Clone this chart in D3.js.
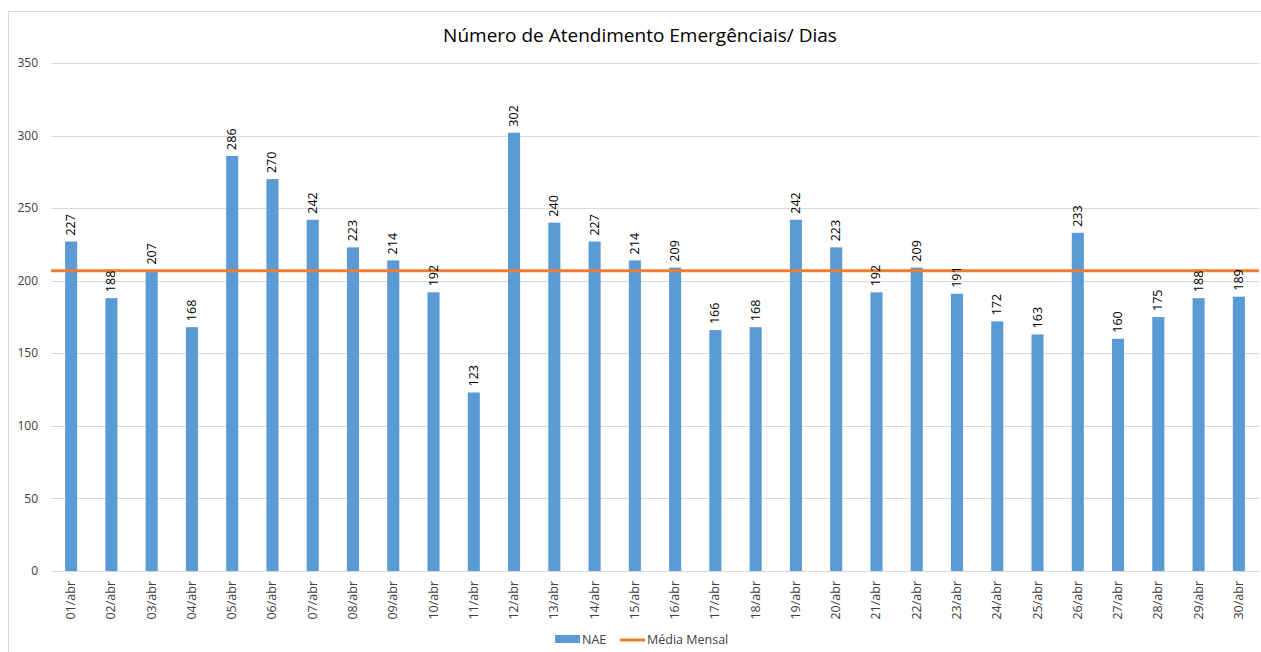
<!DOCTYPE html>
<html>
<head>
<meta charset="utf-8">
<script src="https://cdn.jsdelivr.net/npm/d3@7"></script>
<style>
  body { margin: 0; background: #fff; }
  svg { display: block; font-family: "Open Sans", "Noto Sans", sans-serif; }
</style>
</head>
<body>
<div id="chart"></div>
<script>
// data
const days = ['01/abr','02/abr','03/abr','04/abr','05/abr','06/abr','07/abr','08/abr','09/abr','10/abr',
  '11/abr','12/abr','13/abr','14/abr','15/abr','16/abr','17/abr','18/abr','19/abr','20/abr',
  '21/abr','22/abr','23/abr','24/abr','25/abr','26/abr','27/abr','28/abr','29/abr','30/abr'];
const nae = [227,188,207,168,286,270,242,223,214,192,
  123,302,240,227,214,209,166,168,242,223,
  192,209,191,172,163,233,160,175,188,189];
const mediaMensal = 206.8;
const yTicks = [0,50,100,150,200,250,300,350];

const W = 1261, H = 652;
const margin = {left: 51, right: 2, top: 63, bottom: 81};

const svg = d3.select('#chart').append('svg')
  .attr('width', W).attr('height', H);

// chart frame
svg.append('rect')
  .attr('x', 8.5).attr('y', 11.5)
  .attr('width', W - 6).attr('height', H)
  .attr('fill', 'none').attr('stroke', '#d9d9d9');

const x = d3.scaleBand()
  .domain(days)
  .range([margin.left, W - margin.right])
  .paddingInner(0.7).paddingOuter(0.35);

const y = d3.scaleLinear()
  .domain([0, 350])
  .range([H - margin.bottom, margin.top]);

// gridlines
svg.append('g').selectAll('line')
  .data(yTicks)
  .enter().append('line')
  .attr('x1', margin.left).attr('x2', W - margin.right)
  .attr('y1', d => Math.round(y(d)) + 0.5).attr('y2', d => Math.round(y(d)) + 0.5)
  .attr('stroke', '#d9d9d9').attr('stroke-width', 1);

// y axis labels
svg.append('g').selectAll('text')
  .data(yTicks)
  .enter().append('text')
  .attr('x', 38).attr('y', d => y(d))
  .attr('dy', '0.35em')
  .attr('text-anchor', 'end')
  .style('font-size', '12px').style('fill', '#404040')
  .text(d => d);

// bars
svg.append('g').selectAll('rect')
  .data(nae)
  .enter().append('rect')
  .attr('x', (d, i) => x(days[i]))
  .attr('width', x.bandwidth())
  .attr('y', d => y(d))
  .attr('height', d => y(0) - y(d))
  .attr('fill', '#5b9bd5');

// mean line
svg.append('line')
  .attr('x1', x(days[0]) + x.bandwidth() / 2 - x.step() / 2)
  .attr('x2', x(days[days.length - 1]) + x.bandwidth() / 2 + x.step() / 2)
  .attr('y1', y(mediaMensal)).attr('y2', y(mediaMensal))
  .attr('stroke', '#ed7d31').attr('stroke-width', 3);

// value labels
svg.append('g').selectAll('text')
  .data(nae)
  .enter().append('text')
  .attr('transform', (d, i) => `translate(${x(days[i]) + x.bandwidth() / 2 + 4},${y(d) - 6}) rotate(-90)`)
  .attr('text-anchor', 'start')
  .style('font-size', '12.5px').style('fill', '#000')
  .text(d => d);

// x axis labels
svg.append('g').selectAll('text')
  .data(days)
  .enter().append('text')
  .attr('transform', d => `translate(${x(d) + x.bandwidth() / 2 + 4},${y(0) + 10}) rotate(-90)`)
  .attr('text-anchor', 'end')
  .style('font-size', '12.5px').style('fill', '#404040')
  .text(d => d);

// title
svg.append('text')
  .attr('x', 640).attr('y', 42)
  .attr('text-anchor', 'middle')
  .style('font-size', '19px').style('fill', '#000')
  .text('Número de Atendimento Emergênciais/ Dias');

// legend
const lg = svg.append('g').attr('transform', 'translate(555,640)');
lg.append('rect').attr('x', 0).attr('y', -5).attr('width', 25).attr('height', 8).attr('fill', '#5b9bd5');
lg.append('text').attr('x', 27).attr('y', 0).attr('dy', '0.35em')
  .style('font-size', '12.5px').style('fill', '#404040').text('NAE');
lg.append('line').attr('x1', 65).attr('x2', 90).attr('y1', 0).attr('y2', 0)
  .attr('stroke', '#ed7d31').attr('stroke-width', 3);
lg.append('text').attr('x', 92).attr('y', 0).attr('dy', '0.35em')
  .style('font-size', '12.5px').style('fill', '#404040').text('Média Mensal');
</script>
</body>
</html>
